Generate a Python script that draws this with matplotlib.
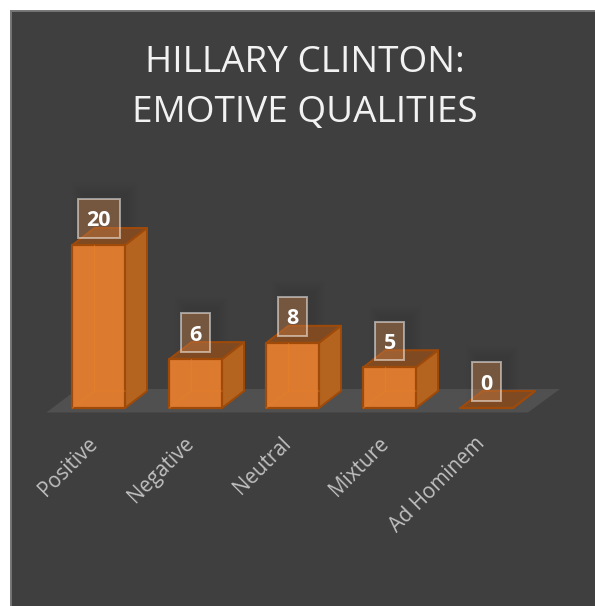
import matplotlib
matplotlib.use('Agg')
import matplotlib.pyplot as plt
from matplotlib.patches import Polygon, Rectangle

categories = ['Positive', 'Negative', 'Neutral', 'Mixture', 'Ad Hominem']
values = [20, 6, 8, 5, 0]
title = 'HILLARY CLINTON:\nEMOTIVE QUALITIES'

W, H = 595, 606
step = 97.0       # px between bars
unit = 8.15       # px per count
x0_px, y0_px = 98.7, 408.0

half = 26.3 / step
dx = 22.0 / step
dy = 17.0 / unit

plt.rcParams['font.family'] = ['Open Sans', 'DejaVu Sans']

fig = plt.figure(figsize=(W / 100, H / 100), dpi=100, facecolor='white')
ax = fig.add_axes([0, 0, 1, 1])
ax.set_xlim(-x0_px / step, (W - x0_px) / step)
ax.set_ylim(-(H - y0_px) / unit, y0_px / unit)
ax.axis('off')

# dark panel, running off the right and bottom edges
ax.add_patch(Rectangle((11 / W, -0.05), 1.0, 1.05 - 11 / H, transform=ax.transAxes,
                       fc='#3f3f3f', ec='#757575', lw=1.4, zorder=0))

# floor of the 3d plot
floor_y = -4.5 / unit
floor = [(-half - 26 / step, floor_y), (4 + half + 15 / step, floor_y),
         (4 + half + 47 / step, floor_y + 23.5 / unit), (-half + 5 / step, floor_y + 23.5 / unit)]
ax.add_patch(Polygon(floor, closed=True, fc='#505050', ec='none', zorder=1))

edge = '#a04a0a'
for i, v in enumerate(values):
    l, r = i - half, i + half
    label_w = 16 + 13 * len(str(v))
    label_h = 38.5
    box_x = i - label_w / 2 / step
    box_y = v + (26.5 - label_h / 2) / unit
    # soft shadow behind the value box
    for k in range(6):
        grow = (6 - k) * 2.0
        ax.add_patch(Rectangle((box_x - (grow - 6) / step, box_y - (grow - 4) / unit),
                               (label_w + 2 * grow) / step, (label_h + 2 * grow) / unit,
                               fc='black', alpha=0.012, ec='none', zorder=1.5))
    side = [(r, 0), (r + dx, dy), (r + dx, v + dy), (r, v)]
    top = [(l, v), (r, v), (r + dx, v + dy), (l + dx, v + dy)]
    front = [(l, 0), (r, 0), (r, v), (l, v)]
    ax.add_patch(Polygon(side, closed=True, fc='#b5641f', ec=edge, lw=1.4, joinstyle='round', zorder=2))
    ax.add_patch(Polygon(top, closed=True, fc='#7f4a22', ec=edge, lw=1.4, joinstyle='round', zorder=2))
    if v > 0:
        ax.add_patch(Polygon(front, closed=True, fc='#dc7a2f', ec=edge, lw=1.6, joinstyle='round', zorder=3))
        # back edges showing through the translucent front
        ax.plot([l + dx, l + dx], [dy, v], color='#e8802a', lw=0.8, alpha=0.5, zorder=3.5)
        ax.plot([l, l + dx, r], [0, dy, dy], color='#e8802a', lw=0.8, alpha=0.5, zorder=3.5)
    else:
        ax.plot([l, r], [0, 0], color=edge, lw=1.6, zorder=3)
    # value label
    ax.add_patch(Rectangle((box_x, box_y), label_w / step, label_h / unit,
                           fc=(0.75, 0.48, 0.28, 0.45), ec=(1, 1, 1, 0.5), lw=1.4, zorder=4))
    ax.text(i, v + 26.5 / unit, str(v), ha='center', va='center_baseline', color='white', fontsize=15.5,
            fontweight='bold', zorder=5)
    # category label, rotated and anchored at its right end
    ax.text(i - 12 / step, -25 / unit, categories[i], rotation=45, rotation_mode='anchor',
            ha='right', va='top', color='#bfbfbf', fontsize=14.8, zorder=5)

ax.text(305 / W, 1 - 88 / H, title, transform=ax.transAxes, ha='center', va='center', color='#f2f2f2',
        fontsize=26.6, linespacing=1.52, zorder=5)

fig.savefig('out.png', dpi=100)
